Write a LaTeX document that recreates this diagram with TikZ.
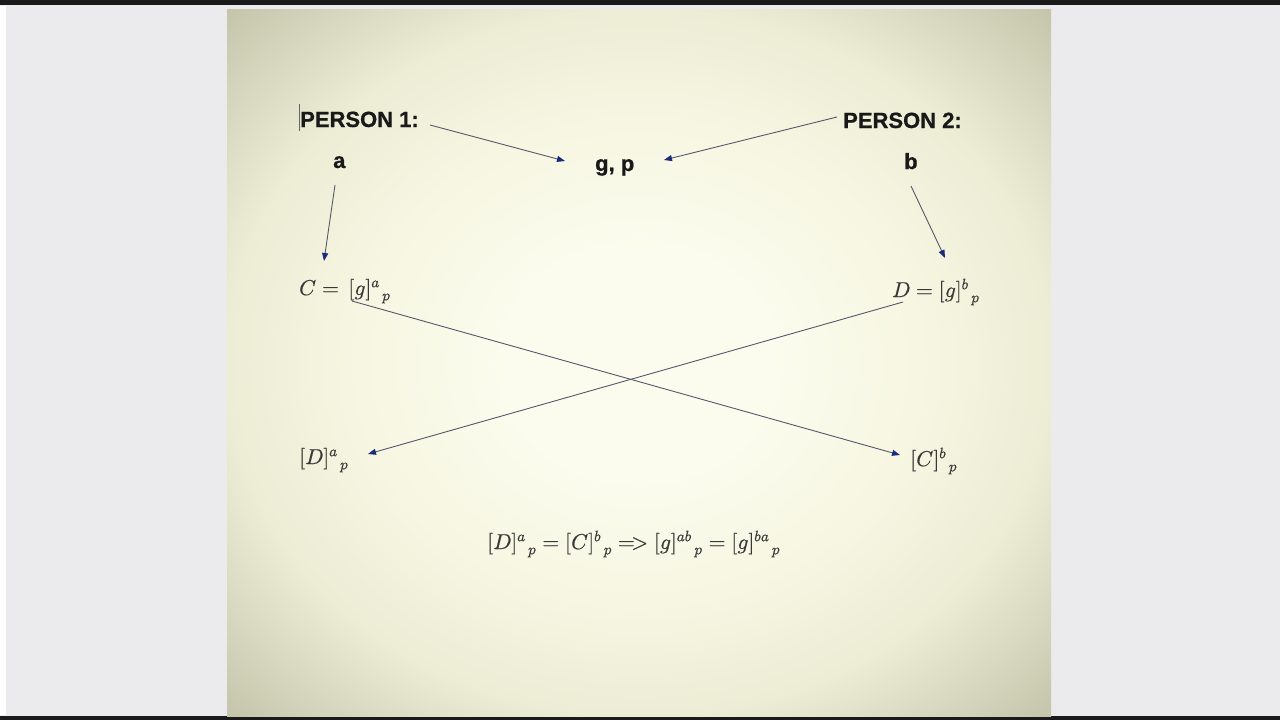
\documentclass[tikz,border=0pt]{standalone}
\usepackage{fontspec}
\usepackage{unicode-math}
\setmathfont{Latin Modern Math}[FakeBold=0.6]
\newfontfamily\labfont{Liberation Sans}[FakeBold=0.7]
\usetikzlibrary{arrows.meta}
\definecolor{bggray}{HTML}{EBEBED}
\definecolor{barblack}{HTML}{1A1A1A}
\definecolor{pgcenter}{HTML}{FCFCEE}
\definecolor{pgmid}{HTML}{F6F6E2}
\definecolor{pgedge}{HTML}{EDEDD6}
\definecolor{pgcorner}{HTML}{C3C4AA}
\definecolor{linegray}{HTML}{55586A}
\definecolor{tipnavy}{HTML}{1C2A7A}
\pgfdeclareradialshading{vignette}{\pgfpoint{0bp}{0bp}}{color(0bp)=(pgcenter); color(8bp)=(pgcenter); color(17bp)=(pgmid); color(25bp)=(pgedge); color(35.5bp)=(pgcorner); color(50bp)=(pgcorner)}
\tikzset{
  boldlab/.style={inner sep=0pt, anchor=base west, font=\labfont\bfseries\fontsize{22}{26}\selectfont, text=black!90},
  mathlab/.style={inner sep=0pt, anchor=base west, font=\fontsize{21.5}{26}\selectfont, text=black!78},
  conn/.style={draw=linegray, line width=0.9pt, -{Triangle[length=8pt,width=6pt,color=tipnavy]}}
}
\begin{document}
\begin{tikzpicture}[x=1pt,y=-1pt]
\useasboundingbox (0,0) rectangle (1280,720);
% background
\fill[bggray] (0,0) rectangle (1280,720);
\fill[white!97!bggray] (0,6) rectangle (6,715);
\fill[barblack] (0,0) rectangle (1280,5);
\fill[barblack] (0,716) rectangle (1280,720);
% page
\shade[shading=vignette] (227,9) rectangle (1051,716);
% text cursor
\draw[black!60, line width=0.8pt] (299,104) -- (299,131);
% labels
\node[boldlab] (p1) at (300,127) {PERSON 1:};
\node[boldlab] (p2) at (843,128) {PERSON 2:};
\node[boldlab] (gp) at (595,171) {g, p};
\node[boldlab] (a) at (333,168) {a};
\node[boldlab] (b) at (904,169) {b};
\node[mathlab] (C) at (299,295) {$C=\,[g]^{a}{}_{\,p}$};
\node[mathlab] (D) at (892,297) {$D=[g]^{b}{}_{\,p}$};
\node[mathlab] (Da) at (299,464) {$[D]^{a}{}_{\,p}$};
\node[mathlab] (Cb) at (910,466) {$[C]^{b}{}_{\,p}$};
\node[mathlab] (eq) at (487,549) {$[D]^{a}{}_{\,p}=[C]^{b}{}_{\,p}\mathrel{=\!>}[g]^{ab}{}_{\,p}=[g]^{ba}{}_{\,p}$};
% connector end points
\coordinate (p1s) at (430,125);
\coordinate (p1e) at (565,161);
\coordinate (p2s) at (837,117);
\coordinate (p2e) at (664,160);
\coordinate (as) at (335,185);
\coordinate (ae) at (324,261);
\coordinate (bs) at (911,186);
\coordinate (be) at (945,258);
\coordinate (Cs) at (352,301);
\coordinate (Ce) at (900,455);
\coordinate (Ds) at (903,302);
\coordinate (De) at (368,454);
\draw[conn] (p1s) -- (p1e);
\draw[conn] (p2s) -- (p2e);
\draw[conn] (as) -- (ae);
\draw[conn] (bs) -- (be);
\draw[conn] (Cs) -- (Ce);
\draw[conn] (Ds) -- (De);
\end{tikzpicture}
\end{document}
